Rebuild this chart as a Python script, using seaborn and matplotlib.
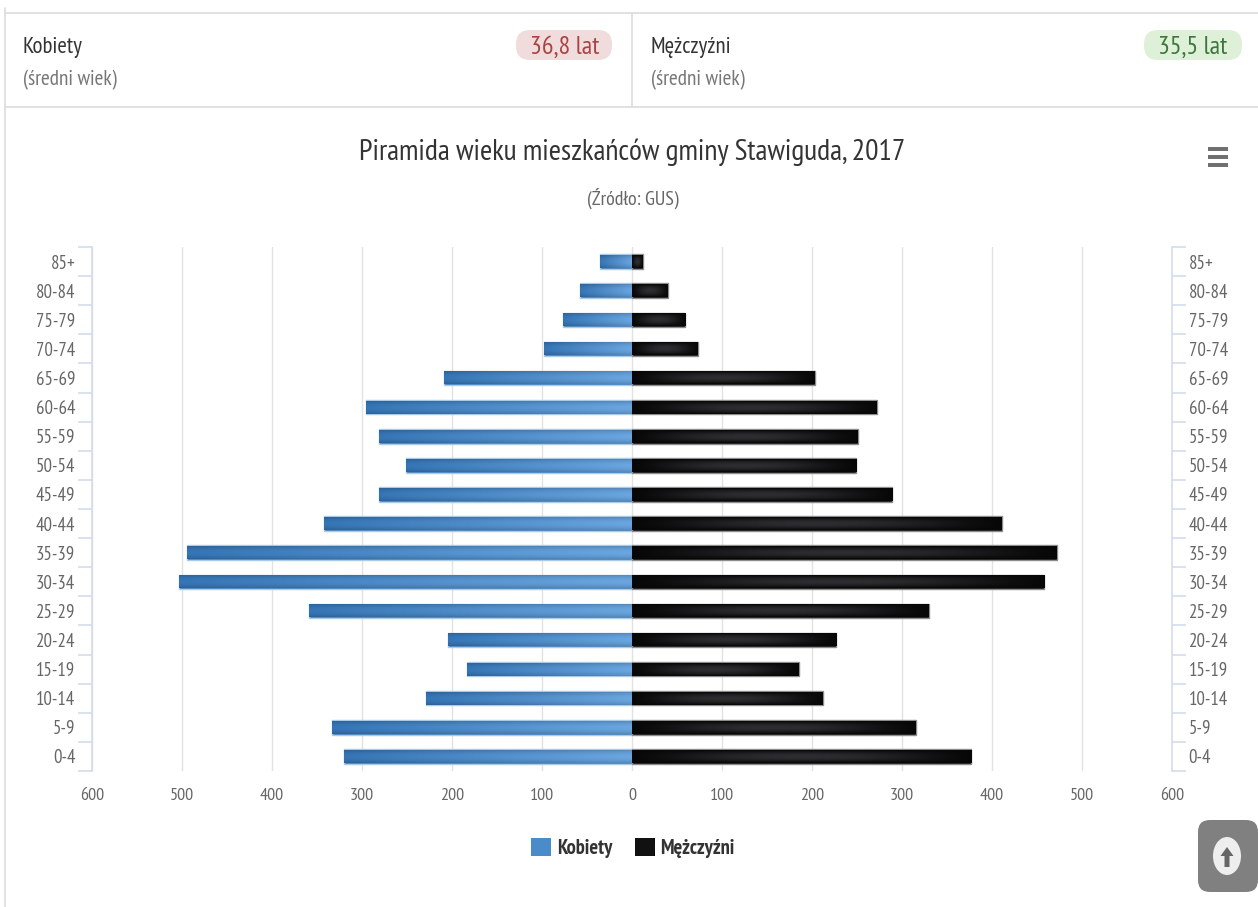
import matplotlib
matplotlib.use("Agg")
from matplotlib import pyplot as plt
from matplotlib.colors import to_rgb
from matplotlib.patches import Ellipse, FancyBboxPatch, Patch, Rectangle
import matplotlib.ticker as mtick
import numpy as np
import pandas as pd
import seaborn as sns

age_groups = ["85+", "80-84", "75-79", "70-74", "65-69", "60-64", "55-59", "50-54", "45-49",
              "40-44", "35-39", "30-34", "25-29", "20-24", "15-19", "10-14", "5-9", "0-4"]
kobiety = [36, 58, 77, 98, 209, 296, 281, 251, 281, 342, 494, 503, 359, 204, 183, 229, 333, 320]
mezczyzni = [12, 40, 59, 73, 203, 272, 251, 249, 289, 411, 472, 458, 330, 227, 185, 212, 315, 377]
x_ticks = [-600, -500, -400, -300, -200, -100, 0, 100, 200, 300, 400, 500, 600]

W, H = 1258, 907
NARROW = ["PT Sans Narrow", "Liberation Sans Narrow", "Liberation Sans", "DejaVu Sans"]

sns.set_theme(style="white")
plt.rcParams["font.family"] = NARROW

df = pd.DataFrame({"wiek": age_groups, "Kobiety": -np.array(kobiety), "Mezczyzni": mezczyzni})

fig = plt.figure(figsize=(W / 100, H / 100), dpi=100, facecolor="white")

# pixel coordinate layers for the page furniture
bg = fig.add_axes([0, 0, 1, 1], zorder=0)
fg = fig.add_axes([0, 0, 1, 1], zorder=5)
for a in (bg, fg):
    a.set_xlim(0, W)
    a.set_ylim(H, 0)
    a.axis("off")
    a.patch.set_alpha(0)

ax = fig.add_axes([92 / W, 1 - 771 / H, 1080 / W, 524 / H], zorder=2)
ax.patch.set_alpha(0)

sns.barplot(data=df, x="Kobiety", y="wiek", order=age_groups, orient="h", width=0.5,
            color="#3f7fbb", saturation=1, edgecolor="#a9cbe8", linewidth=1, ax=ax, zorder=3)
sns.barplot(data=df, x="Mezczyzni", y="wiek", order=age_groups, orient="h", width=0.5,
            color="#111111", saturation=1, edgecolor="#8c8c8c", linewidth=1, ax=ax, zorder=3)

ax.set_xlim(-600, 600)
ax.set_ylim(17.5, -0.5)
ax.set_xlabel("")
ax.set_ylabel("")


def blue_grad(n=60, m=15):
    u = np.linspace(0, 1, n)[None, :, None]
    v = np.abs(np.linspace(-1, 1, m))[:, None, None]
    light, dark = np.array(to_rgb("#6aa6e0")), np.array(to_rgb("#3676b6"))
    c = light * (1 - u) + dark * u
    return np.clip(c * (1 - 0.16 * v ** 2), 0, 1)


def black_grad(n=60, m=15):
    u = np.linspace(0, 1, n)[None, :, None]
    v = np.abs(np.linspace(-1, 1, m))[:, None, None]
    glow = np.sin(np.pi * u) ** 1.2 * (1 - v ** 2)
    return np.clip(0.03 + 0.15 * glow, 0, 1) * np.array([1, 1, 1.08])


# bar shading sits on top of the seaborn bars
for bar in list(ax.patches):
    left, w = bar.get_x(), bar.get_width()
    top, h = bar.get_y(), bar.get_height()
    if w < 0:
        left, w = left + w, -w
    is_women = left < 0
    img = blue_grad() if is_women else black_grad()
    # the gradient runs from the zero line out to the bar end
    extent = (0, left, top + h - 0.03, top + 0.03) if is_women else (left, left + w, top + h - 0.03, top + 0.03)
    ax.imshow(img, extent=extent, aspect="auto", zorder=3.5, interpolation="bilinear")

ax.set_xlim(-600, 600)
ax.set_ylim(17.5, -0.5)

# axes
for side in ("top", "bottom"):
    ax.spines[side].set_visible(False)
for side in ("left", "right"):
    ax.spines[side].set_color("#d3dcec")
    ax.spines[side].set_linewidth(1.2)

ax.set_xticks(x_ticks)
ax.xaxis.set_major_formatter(mtick.FuncFormatter(lambda v, pos: f"{abs(v):.0f}"))
ax.tick_params(axis="x", length=0, pad=12, labelsize=13, labelcolor="#666666")
ax.grid(axis="x", color="#e2e2e2", linewidth=1)
ax.set_axisbelow(True)

ax.set_yticks(range(len(age_groups)))
ax.set_yticklabels(age_groups, va="center_baseline")
ax.tick_params(axis="y", which="major", length=0, pad=12, labelsize=13.5, labelcolor="#666666",
               left=True, right=True, labelleft=True, labelright=True)
ax.set_yticks(np.arange(-0.5, len(age_groups)), minor=True)
ax.tick_params(axis="y", which="minor", length=10, width=1.2, color="#d3dcec", left=True, right=True)

# header panels
line = "#dddddd"
bg.plot([5, W], [13, 13], color=line, lw=1.2)
bg.plot([5, W], [107, 107], color=line, lw=1.2)
bg.plot([632, 632], [13, 107], color=line, lw=1.2)
bg.plot([5, 5], [8, H], color=line, lw=1.2)

for x0, x1, face in [(516, 612, "#f0dcdc"), (1144, 1242, "#dff0d8")]:
    bg.add_patch(FancyBboxPatch((x0 + 14, 30 + 14), x1 - x0 - 28, 2, boxstyle="round,pad=14",
                                fc=face, ec="none"))

head = {"fontsize": 16.5, "color": "#333333", "va": "center"}
sub = {"fontsize": 15.3, "color": "#777777", "va": "center"}
bg.text(23, 48, "Kobiety", **head)
bg.text(23, 80, "(średni wiek)", **sub)
bg.text(651, 48, "Mężczyźni", **head)
bg.text(651, 80, "(średni wiek)", **sub)
bg.text(565, 47, "36,8 lat", fontsize=18.8, color="#a94442", ha="center", va="center")
bg.text(1193, 47, "35,5 lat", fontsize=18.8, color="#3c763d", ha="center", va="center")

bg.text(632.5, 152, "Piramida wieku mieszkańców gminy Stawiguda, 2017", fontsize=21.4, color="#333333",
        ha="center", va="center")
bg.text(633, 198, "(Źródło: GUS)", fontsize=14.4, color="#666666", ha="center", va="center")

# export menu icon
for y in (149, 157, 165):
    bg.add_patch(Rectangle((1208, y - 2), 20, 4, fc="#707070", ec="none"))

# legend
handles = [Patch(fc="#4a8cc9", ec="none", label="Kobiety"), Patch(fc="#111111", ec="none", label="Mężczyźni")]
leg = fg.legend(handles=handles, loc="center", bbox_to_anchor=(633, 848), bbox_transform=fg.transData,
                ncol=2, frameon=False, handlelength=0.95, handleheight=0.95, handletextpad=0.3,
                columnspacing=1.1, prop={"family": NARROW, "weight": "bold", "size": 14.8},
                labelcolor="#333333")

fig.canvas.draw()
inv = fg.transData.inverted()
for swatch, kind in zip(leg.get_patches(), ("blue", "black")):
    ext = swatch.get_window_extent()
    (x0, y0), (x1, y1) = inv.transform([(ext.x0, ext.y0), (ext.x1, ext.y1)])
    yy, xx = np.mgrid[-1:1:30j, -1:1:30j]
    r = np.clip(np.sqrt(xx ** 2 + yy ** 2) / 1.4, 0, 1)[:, :, None]
    if kind == "blue":
        img = np.array(to_rgb("#62a5e4")) * (1 - r) + np.array(to_rgb("#2d69a8")) * r
    else:
        img = np.array(to_rgb("#3a3a3e")) * (1 - r) + np.array(to_rgb("#000000")) * r
    fg.imshow(img, extent=(x0, x1, y0, y1), aspect="auto", zorder=3, interpolation="bilinear")
fg.set_xlim(0, W)
fg.set_ylim(H, 0)

# back-to-top button
fg.add_patch(FancyBboxPatch((1198 + 12, 820 + 12), 60 - 24, 72 - 24, boxstyle="round,pad=12",
                            fc="#808080", ec="none", zorder=4))
fg.add_patch(Ellipse((1227, 856), 28, 38, fc="#eeeeee", ec="none", zorder=5))
fg.arrow(1227, 867, 0, -20, width=5, head_width=13, head_length=9, length_includes_head=True,
         fc="#666666", ec="none", zorder=6)

fig.savefig("out.png", dpi=100)
